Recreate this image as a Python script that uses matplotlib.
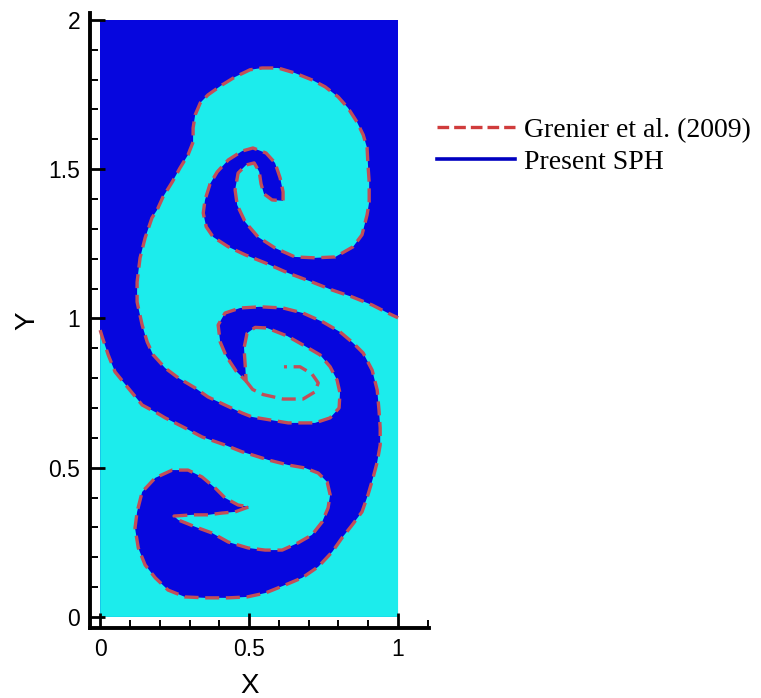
import numpy as np
import matplotlib.pyplot as plt
from matplotlib.lines import Line2D
from matplotlib.ticker import MultipleLocator, FormatStrFormatter

# domain of the simulation
domain_x = [0.0, 1.0]
domain_y = [0.0, 2.0]

# interface (Grenier et al. 2009), left wall -> right wall
# lower "eye" and notch
eye_x = [0.000, 0.007, 0.027, 0.050, 0.094, 0.141, 0.191, 0.218, 0.285, 0.342, 0.419, 0.477,
         0.510, 0.564, 0.631, 0.688, 0.732, 0.762, 0.772, 0.765, 0.745, 0.711, 0.664, 0.611,
         0.554, 0.497, 0.430, 0.376, 0.319, 0.262, 0.248, 0.309, 0.362, 0.409, 0.453]
eye_y = [0.961, 0.938, 0.878, 0.821, 0.767, 0.710, 0.683, 0.667, 0.633, 0.603, 0.576, 0.553,
         0.543, 0.526, 0.509, 0.499, 0.482, 0.452, 0.409, 0.365, 0.318, 0.275, 0.248, 0.224,
         0.224, 0.231, 0.251, 0.281, 0.302, 0.325, 0.338, 0.342, 0.342, 0.348, 0.352]

# lower-left lobe and bottom of the falling cap
lobe_x = [0.500, 0.463, 0.419, 0.386, 0.342, 0.295, 0.242, 0.185, 0.141, 0.124, 0.117, 0.128,
          0.151, 0.185, 0.228, 0.285, 0.352, 0.430, 0.493, 0.554, 0.621, 0.678, 0.732, 0.779,
          0.812, 0.846, 0.879]
lobe_y = [0.369, 0.375, 0.399, 0.432, 0.469, 0.492, 0.492, 0.466, 0.419, 0.352, 0.298, 0.231,
          0.174, 0.131, 0.090, 0.067, 0.064, 0.064, 0.067, 0.080, 0.107, 0.131, 0.168, 0.218,
          0.265, 0.308, 0.352]

# right side of the falling cap and its curl
cap_lo_x = [0.899, 0.916, 0.930, 0.940, 0.940, 0.936, 0.930, 0.913, 0.883, 0.849, 0.805, 0.748,
            0.681, 0.614, 0.537, 0.470, 0.419, 0.396, 0.403, 0.423, 0.456, 0.490, 0.487, 0.483,
            0.493]
cap_lo_y = [0.409, 0.466, 0.519, 0.576, 0.633, 0.693, 0.760, 0.827, 0.884, 0.918, 0.955, 0.988,
            1.018, 1.035, 1.039, 1.035, 1.018, 0.978, 0.921, 0.874, 0.824, 0.790, 0.841, 0.901,
            0.950]

# stem of the rising bubble
stem_x = [0.520, 0.560, 0.628, 0.681, 0.738, 0.772, 0.795, 0.805, 0.802, 0.772, 0.721, 0.631,
          0.510, 0.477, 0.419, 0.362, 0.319, 0.262, 0.218, 0.178, 0.158, 0.141, 0.124, 0.124,
          0.134, 0.151, 0.174, 0.191, 0.211, 0.242, 0.268, 0.295, 0.312]
stem_y = [0.970, 0.968, 0.941, 0.911, 0.878, 0.838, 0.794, 0.750, 0.700, 0.667, 0.650, 0.650,
          0.670, 0.683, 0.710, 0.737, 0.767, 0.801, 0.834, 0.878, 0.921, 0.978, 1.055, 1.122,
          1.203, 1.270, 1.337, 1.363, 1.407, 1.457, 1.504, 1.548, 1.591]

# rising cap and its curl
cap_up_x = [0.312, 0.319, 0.336, 0.362, 0.409, 0.453, 0.503, 0.544, 0.597, 0.654, 0.711, 0.755,
            0.799, 0.832, 0.862, 0.883, 0.896, 0.899, 0.903, 0.903, 0.896, 0.879, 0.849, 0.789,
            0.721, 0.654, 0.587, 0.530, 0.487, 0.460, 0.453, 0.463, 0.490, 0.517, 0.534, 0.540,
            0.550, 0.577, 0.614]
cap_up_y = [1.638, 1.682, 1.722, 1.749, 1.782, 1.809, 1.833, 1.839, 1.839, 1.822, 1.799, 1.776,
            1.742, 1.705, 1.658, 1.615, 1.571, 1.514, 1.457, 1.390, 1.347, 1.280, 1.240, 1.206,
            1.203, 1.206, 1.236, 1.273, 1.323, 1.380, 1.430, 1.487, 1.514, 1.521, 1.491, 1.451,
            1.417, 1.397, 1.394]

# arm going back to the right wall
arm_x = [0.614, 0.604, 0.587, 0.557, 0.513, 0.477, 0.430, 0.393, 0.369, 0.352, 0.346, 0.356,
         0.379, 0.430, 0.487, 0.554, 0.631, 0.711, 0.779, 0.846, 0.913, 0.966, 1.000]
arm_y = [1.424, 1.471, 1.521, 1.554, 1.571, 1.561, 1.531, 1.491, 1.451, 1.397, 1.353, 1.307,
         1.273, 1.240, 1.213, 1.186, 1.152, 1.122, 1.095, 1.072, 1.045, 1.018, 1.002]

# thin filament at the end of the lower spiral
fil_x = [0.490, 0.512, 0.547, 0.614, 0.681, 0.721, 0.732, 0.711, 0.671, 0.617]
fil_y = [0.790, 0.762, 0.745, 0.730, 0.730, 0.754, 0.784, 0.814, 0.838, 0.838]

heavy = '#0606DE'
light = '#1CECEC'
red = '#C24E58'

cx = np.concatenate([eye_x, lobe_x, cap_lo_x, stem_x, cap_up_x, arm_x])
cy = np.concatenate([eye_y, lobe_y, cap_lo_y, stem_y, cap_up_y, arm_y])

fig = plt.figure(figsize=(7.61, 6.98), dpi=100)
ax = fig.add_axes([0.1183, 0.1003, 0.4455, 0.881])

# present SPH (coloured fluids)
ax.fill_between(domain_x, domain_y[0], domain_y[1], color=heavy, lw=0)
ax.fill(np.r_[cx, domain_x[1], domain_x[0]], np.r_[cy, domain_y[0], domain_y[0]],
        color=light, lw=0)

# Grenier et al. interface
ax.plot(cx, cy, color=red, lw=2.4, dashes=(4.2, 2))
ax.plot(fil_x, fil_y, color=red, lw=2.4, dashes=(4.2, 2))

ax.set_xlim(-0.034, 1.104)
ax.set_ylim(-0.037, 2.023)

for s in ['top', 'right']:
    ax.spines[s].set_visible(False)
for s in ['left', 'bottom']:
    ax.spines[s].set_linewidth(2.8)

ax.xaxis.set_major_locator(MultipleLocator(0.5))
ax.xaxis.set_minor_locator(MultipleLocator(0.1))
ax.yaxis.set_major_locator(MultipleLocator(0.5))
ax.yaxis.set_minor_locator(MultipleLocator(0.1))
ax.xaxis.set_major_formatter(FormatStrFormatter('%g'))
ax.yaxis.set_major_formatter(FormatStrFormatter('%g'))
ax.tick_params(which='major', direction='in', length=11, width=2.0, pad=7)
ax.tick_params(which='minor', direction='in', length=6, width=1.4)
for lab in ax.get_xticklabels() + ax.get_yticklabels():
    lab.set_family('Liberation Sans')
    lab.set_fontsize(16.5)

ax.set_xlabel('X', family='Liberation Sans', fontsize=20, va='center')
ax.xaxis.set_label_coords(0.472, -0.094)
ax.set_ylabel('Y', family='Liberation Sans', fontsize=20, va='center')
ax.yaxis.set_label_coords(-0.185, 0.50)

handles = [Line2D([], [], color='#D03C3C', lw=2.4, dashes=(3.5, 1.5)),
           Line2D([], [], color='#0000C0', lw=2.6)]
fig.legend(handles, ['Grenier et al. (2009)', 'Present SPH'], loc='upper left',
           bbox_to_anchor=(0.574, 0.832), frameon=False, borderpad=0, borderaxespad=0,
           prop={'family': 'Liberation Serif', 'size': 20}, handlelength=2.8,
           handletextpad=0.35, labelspacing=0.25)

fig.savefig('out.png', dpi=100)
